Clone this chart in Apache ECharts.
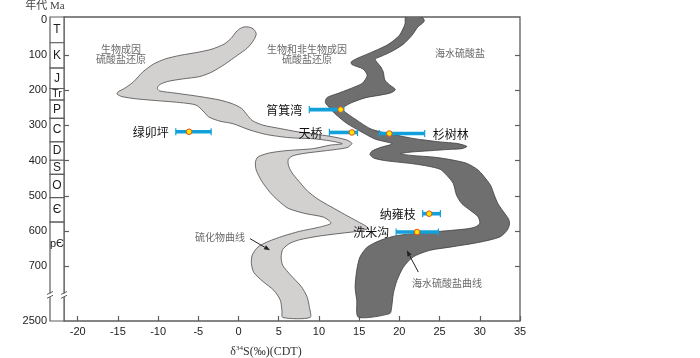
<!DOCTYPE html>
<html><head><meta charset="utf-8">
<script src="https://cdn.jsdelivr.net/npm/echarts@6/dist/echarts.min.js"></script>
<style>html,body{margin:0;padding:0;background:#fff}#c{width:700px;height:358px}</style>
</head><body><div id="c"></div>
<script>
// ---------------- data ----------------
const xTicks = [-20,-15,-10,-5,0,5,10,15,20,25,30,35];
const ageTicks = [0,100,200,300,400,500,600,700];
const ageBottom = 856;          // bottom of broken axis (labelled 2500 Ma)
const ageBottomLabel = '2500';
const ageBreak = 784;           // position of the axis break symbol

const periods = ['T','K','J','Tr','P','C','D','S','O','Є','pЄ'];
const periodBase = [65,137,195,228,280,347,399,439,505,575,856];

const sites    = ['筲箕湾','天桥','杉树林','绿卯坪','纳雍枝','洗米沟'];
const siteAge  = [255, 320, 323, 318, 551, 603];
const siteMean = [12.7, 14.1, 18.75, -6.15, 23.7, 22.2];
const siteMin  = [8.8, 11.3, 17.5, -7.8, 22.9, 19.6];
const siteMax  = [13.1, 14.8, 23.15, -3.4, 25.1, 24.85];
const rightLabelled = ['杉树林'];

// sulfide (light) band outline: [δ34S, age]
const sulfideSideA = [
[0.7,20],[0.1,26],[-0.4,37],[-0.9,52],[-1.8,69],[-3.3,83],[-4.8,91],[-7.3,101],[-9.1,111],[-10.6,126],[-11.9,148],[-13.1,177],[-14.2,195],[-15.0,205],[-15.1,211],[-14.5,218],[-12.9,224],[-11.0,228],[-7.3,235],[-5.3,242],[-4.4,259],[-3.7,276],[-2.3,288],[-0.7,295],[1.4,313],[3.5,326],[6.4,335],[9.3,338],[11.4,344],[12.9,352],
[11.4,356],[9.3,366],[5.8,372],[3.7,379],[2.4,390],[2.1,405],[2.2,427],[2.9,459],[3.9,490],[4.9,513],[6.2,536],[8.4,551],[10.6,561],[11.5,578],
[9.9,590],[7.6,601],[5.5,615],[3.7,630],[2.4,646],[1.7,669],[1.6,692],[1.9,718],[3.0,743],[4.4,769],[5.2,797],[5.4,826],[5.5,846]
];
const sulfideSideB = [
[1.4,21],[1.9,27],[2.2,40],[1.9,57],[1.1,80],[-0.1,100],[-1.7,126],[-3.3,148],[-4.8,161],[-7.0,168],[-8.8,175],[-9.8,184],[-10.1,194],[-9.8,202],[-7.9,208],[-4.8,218],[-2.3,228],[-0.7,239],[0.4,252],[1.1,271],[1.7,286],[3.0,299],[5.2,309],[7.3,318],[11.4,331],[13.4,341],[14.1,351],
[13.5,363],[10.8,372],[8.3,379],[6.8,386],[6.2,396],[6.2,413],[6.6,433],[7.4,456],[8.6,487],[9.9,510],[11.4,530],[13.2,553],[14.8,573],[15.9,587],[16.1,593],
[15.1,600],[12.6,607],[9.9,615],[7.6,625],[6.4,635],[5.5,652],[5.3,675],[5.5,698],[6.5,726],[7.8,758],[8.5,786],[8.8,815],[8.9,846]
];
// seawater sulfate (dark) band outline: [δ34S, age]
const sulfateSideL = [
[20.8,-8],[20.7,12],[20.0,44],[18.6,70],[16.85,89],[14.7,110],[14.0,120],[14.1,127],[15.5,140],[16.0,158],[15.4,180],[14.5,190],[12.6,207],[11.0,221],[10.8,235],[11.4,252],[12.1,269],[13.45,294],[15.1,316],[17.0,339],[19.1,352],
[17.6,363],[16.6,373],[16.35,383],[16.85,393],[18.2,400],[20.1,405],[21.7,409],[23.6,416],[25.1,425],[25.9,442],[26.7,465],[27.1,498],[27.75,522],[28.8,541],[29.8,560],[30.0,578],[29.5,588],[28.4,594],
[25.1,601],[22.2,607],[19.7,613],[17.6,627],[16.0,646],[15.1,674],[14.7,712],[14.5,760],[14.7,797],[14.9,845]
];
const sulfateSideR = [
[22.8,-8],[23.1,2],[22.9,9],[22.3,20],[21.6,43],[20.5,69],[19.1,89],[17.7,104],[17.0,111],[17.2,120],[17.7,134],[18.0,148],[18.2,171],[18.8,185],[19.5,198],[19.0,207],[17.6,214],[15.85,221],[14.1,235],[13.1,248],[13.0,257],[14.7,285],[16.35,309],[17.6,318],[19.7,328],[21.7,337],[25.1,347],[27.1,351],[28.0,356],[28.4,360],
[27.8,366],[26.3,368],[23.8,372],[21.3,376],[20.1,381],
[21.9,386],[24.2,390],[26.3,397],[28.4,408],[29.8,427],[30.9,456],[31.4,473],[31.8,498],[32.3,524],[33.0,547],[33.6,567],[33.7,581],[33.4,598],[32.5,617],[30.0,632],[26.3,646],[23.8,655],[21.7,674],[20.5,703],[19.7,741],[19.25,778],[19.05,815],[18.8,835]
];
// annotation arrows: [fromX, fromAge, toX, toAge]
const arrows = [[1.43,622,3.92,655],[22.36,717,20.92,655]];

// ---------------- chart ----------------
const X_MIN = -21.7, X_MAX = 35, Y_MIN = -8.2, Y_MAX = ageBottom;
const sulfideOutline = sulfideSideA.concat(sulfideSideB.slice().reverse());
const sulfateOutline = sulfateSideL.concat(sulfateSideR.slice().reverse());
const AXC = '#5e5e5e';
const numFont = '"Liberation Sans", Arial, sans-serif';
const cjk = '"Noto Sans CJK SC", sans-serif';

function bandSeries(outline, fill, stroke) {
  return {
    type: 'custom', coordinateSystem: 'cartesian2d', xAxisIndex: 0, yAxisIndex: 0, clip: true,
    data: [[X_MIN, Y_MIN]], silent: true,
    renderItem: (p, api) => ({
      type: 'polygon',
      shape: { points: outline.map(q => api.coord(q)), smooth: 0.25 },
      style: { fill: fill, stroke: stroke, lineWidth: 0.8 }
    })
  };
}

const option = {
  animation: false,
  backgroundColor: '#fff',
  grid: [
    { left: 64, right: 180, top: 17, bottom: 37, show: true, borderColor: AXC, borderWidth: 1.3, backgroundColor: 'transparent' },
    { left: 50, width: 14, top: 17, bottom: 37, show: false }
  ],
  xAxis: [
    { gridIndex: 0, type: 'value', min: X_MIN, max: X_MAX, position: 'bottom',
      axisLine: { show: false, onZero: false }, splitLine: { show: false },
      axisTick: { show: true, inside: true, length: 5, customValues: xTicks, lineStyle: { color: AXC, width: 1.2 } },
      axisLabel: { customValues: xTicks, color: '#222', fontSize: 11, fontFamily: numFont, margin: 5 } },
    { gridIndex: 1, type: 'value', min: 0, max: 1, show: false }
  ],
  yAxis: [
    { gridIndex: 0, type: 'value', inverse: true, min: Y_MIN, max: Y_MAX, position: 'left',
      axisLine: { show: false, onZero: false }, splitLine: { show: false }, axisLabel: { show: false },
      axisTick: { show: true, inside: true, length: 5, customValues: ageTicks.slice(1), lineStyle: { color: AXC, width: 1.2 } } },
    { gridIndex: 0, type: 'value', inverse: true, min: Y_MIN, max: Y_MAX, position: 'right',
      axisLine: { show: false, onZero: false }, splitLine: { show: false }, axisLabel: { show: false },
      axisTick: { show: true, inside: true, length: 5, customValues: ageTicks.slice(1), lineStyle: { color: AXC, width: 1.2 } } },
    { gridIndex: 1, type: 'value', inverse: true, min: Y_MIN, max: Y_MAX, position: 'left',
      axisLine: { show: false, onZero: false }, splitLine: { show: false }, axisTick: { show: false },
      axisLabel: { customValues: ageTicks.concat([ageBottom]), formatter: v => (v === ageBottom ? ageBottomLabel : String(v)),
        color: '#222', fontSize: 11, fontFamily: numFont, margin: 3 } }
  ],
  series: [
    bandSeries(sulfideOutline, '#d3d0d0', '#4a4a4a'),
    bandSeries(sulfateOutline, '#6f6f6f', '#3e3e3e'),
    { // stratigraphic column
      type: 'custom', coordinateSystem: 'cartesian2d', xAxisIndex: 1, yAxisIndex: 2, clip: false, silent: true,
      data: periods.map((p, i) => [0.5, periodBase[i]]),
      renderItem: (params, api) => {
        const i = params.dataIndex;
        const top = i === 0 ? Y_MIN : periodBase[i - 1];
        const bot = periodBase[i];
        const p1 = api.coord([0, top]), p2 = api.coord([1, bot]);
        const mid = i === periods.length - 1 ? (top + 700) / 2 : (top + bot) / 2;
        const pm = api.coord([0.5, mid]);
        const fs = periods[i].length > 1 ? 11 : 12;
        return { type: 'group', children: [
          { type: 'rect', shape: { x: p1[0], y: p1[1], width: p2[0] - p1[0], height: p2[1] - p1[1] },
            style: { fill: '#fff', stroke: AXC, lineWidth: 1.2 } },
          { type: 'text', style: { text: periods[i], x: pm[0], y: pm[1], align: 'center', verticalAlign: 'middle',
            font: fs + 'px ' + numFont, fill: '#222' } }
        ] };
      }
    },
    { // arrows
      type: 'custom', coordinateSystem: 'cartesian2d', xAxisIndex: 0, yAxisIndex: 0, silent: true,
      data: arrows,
      renderItem: (params, api) => {
        const a = arrows[params.dataIndex];
        const s = api.coord([a[0], a[1]]), e = api.coord([a[2], a[3]]);
        const dx = e[0] - s[0], dy = e[1] - s[1], L = Math.hypot(dx, dy), ux = dx / L, uy = dy / L;
        const h = 6, w = 2.3, bx = e[0] - ux * h, by = e[1] - uy * h;
        return { type: 'group', children: [
          { type: 'line', shape: { x1: s[0], y1: s[1], x2: bx, y2: by }, style: { stroke: '#222', lineWidth: 1 } },
          { type: 'polygon', shape: { points: [[e[0], e[1]], [bx - uy * w, by + ux * w], [bx + uy * w, by - ux * w]] }, style: { fill: '#222' } }
        ] };
      }
    },
    { // samples with ranges
      type: 'custom', coordinateSystem: 'cartesian2d', xAxisIndex: 0, yAxisIndex: 0, silent: true,
      data: sites.map((s, i) => [siteMean[i], siteAge[i]]),
      renderItem: (params, api) => {
        const i = params.dataIndex;
        const a = api.coord([siteMin[i], siteAge[i]]), b = api.coord([siteMax[i], siteAge[i]]), m = api.coord([siteMean[i], siteAge[i]]);
        const right = rightLabelled.indexOf(sites[i]) >= 0;
        const blue = '#11a0da';
        return { type: 'group', children: [
          { type: 'line', shape: { x1: a[0], y1: a[1], x2: b[0], y2: b[1] }, style: { stroke: blue, lineWidth: 3.6 } },
          { type: 'line', shape: { x1: a[0], y1: a[1] - 3.6, x2: a[0], y2: a[1] + 3.6 }, style: { stroke: blue, lineWidth: 1.2 } },
          { type: 'line', shape: { x1: b[0], y1: b[1] - 3.6, x2: b[0], y2: b[1] + 3.6 }, style: { stroke: blue, lineWidth: 1.2 } },
          { type: 'circle', shape: { cx: m[0], cy: m[1], r: 2.8 }, style: { fill: '#ffe600', stroke: '#e4501c', lineWidth: 1 } },
          { type: 'text', style: { text: sites[i], x: right ? b[0] + 8 : a[0] - 7, y: a[1] + 0.5,
            align: right ? 'left' : 'right', verticalAlign: 'middle', font: '12px ' + cjk, fill: '#111' } }
        ] };
      }
    }
  ]
};

const chart = echarts.init(document.getElementById('c'), null, { renderer: 'canvas' });
chart.setOption(option);

const pMain = chart.convertToPixel({ gridIndex: 0 }, [X_MIN, ageBreak]);
const pCol = chart.convertToPixel({ xAxisIndex: 1, yAxisIndex: 2 }, [0, ageBreak]);
function breakMark(x, y) {
  return [
    { type: 'rect', shape: { x: x - 3, y: y - 2.2, width: 6, height: 3.6 }, style: { fill: '#fff' }, z: 100 },
    { type: 'line', shape: { x1: x - 3, y1: y - 1.2, x2: x + 3, y2: y - 4.2 }, style: { stroke: AXC, lineWidth: 1 }, z: 101 },
    { type: 'line', shape: { x1: x - 3, y1: y + 2.6, x2: x + 3, y2: y - 0.4 }, style: { stroke: AXC, lineWidth: 1 }, z: 101 }
  ];
}
const note = (text, x, y) => ({ type: 'text', x: x, y: y, z: 50, silent: true,
  style: { text: text, align: 'center', verticalAlign: 'middle', font: '10px ' + cjk, fill: '#6a6a6a', lineHeight: 10 } });

chart.setOption({
  graphic: [
    { type: 'text', x: 45, y: 6, style: { text: '年代 Ma', align: 'center', verticalAlign: 'middle',
      font: '11px "Liberation Serif", "Noto Sans CJK SC", serif', fill: '#444' } },
    { type: 'text', x: 266, y: 352, style: {
      text: '{a|δ}{b|34}{a|S(‰)(CDT)}', align: 'center', verticalAlign: 'middle',
      rich: { a: { fontSize: 12, fontFamily: '"Liberation Serif", serif', fill: '#333', lineHeight: 14 },
              b: { fontSize: 7, fontFamily: '"Liberation Serif", serif', fill: '#333', lineHeight: 14, verticalAlign: 'top' } } } },
    note('生物成因\n硫酸盐还原', 121, 54),
    note('生物和非生物成因\n硫酸盐还原', 307, 54),
    note('海水硫酸盐', 460, 53),
    note('硫化物曲线', 220, 237),
    note('海水硫酸盐曲线', 447, 283)
  ].concat(breakMark(pMain[0], pMain[1])).concat(breakMark(pCol[0], pCol[1]))
});
</script>
</body></html>
